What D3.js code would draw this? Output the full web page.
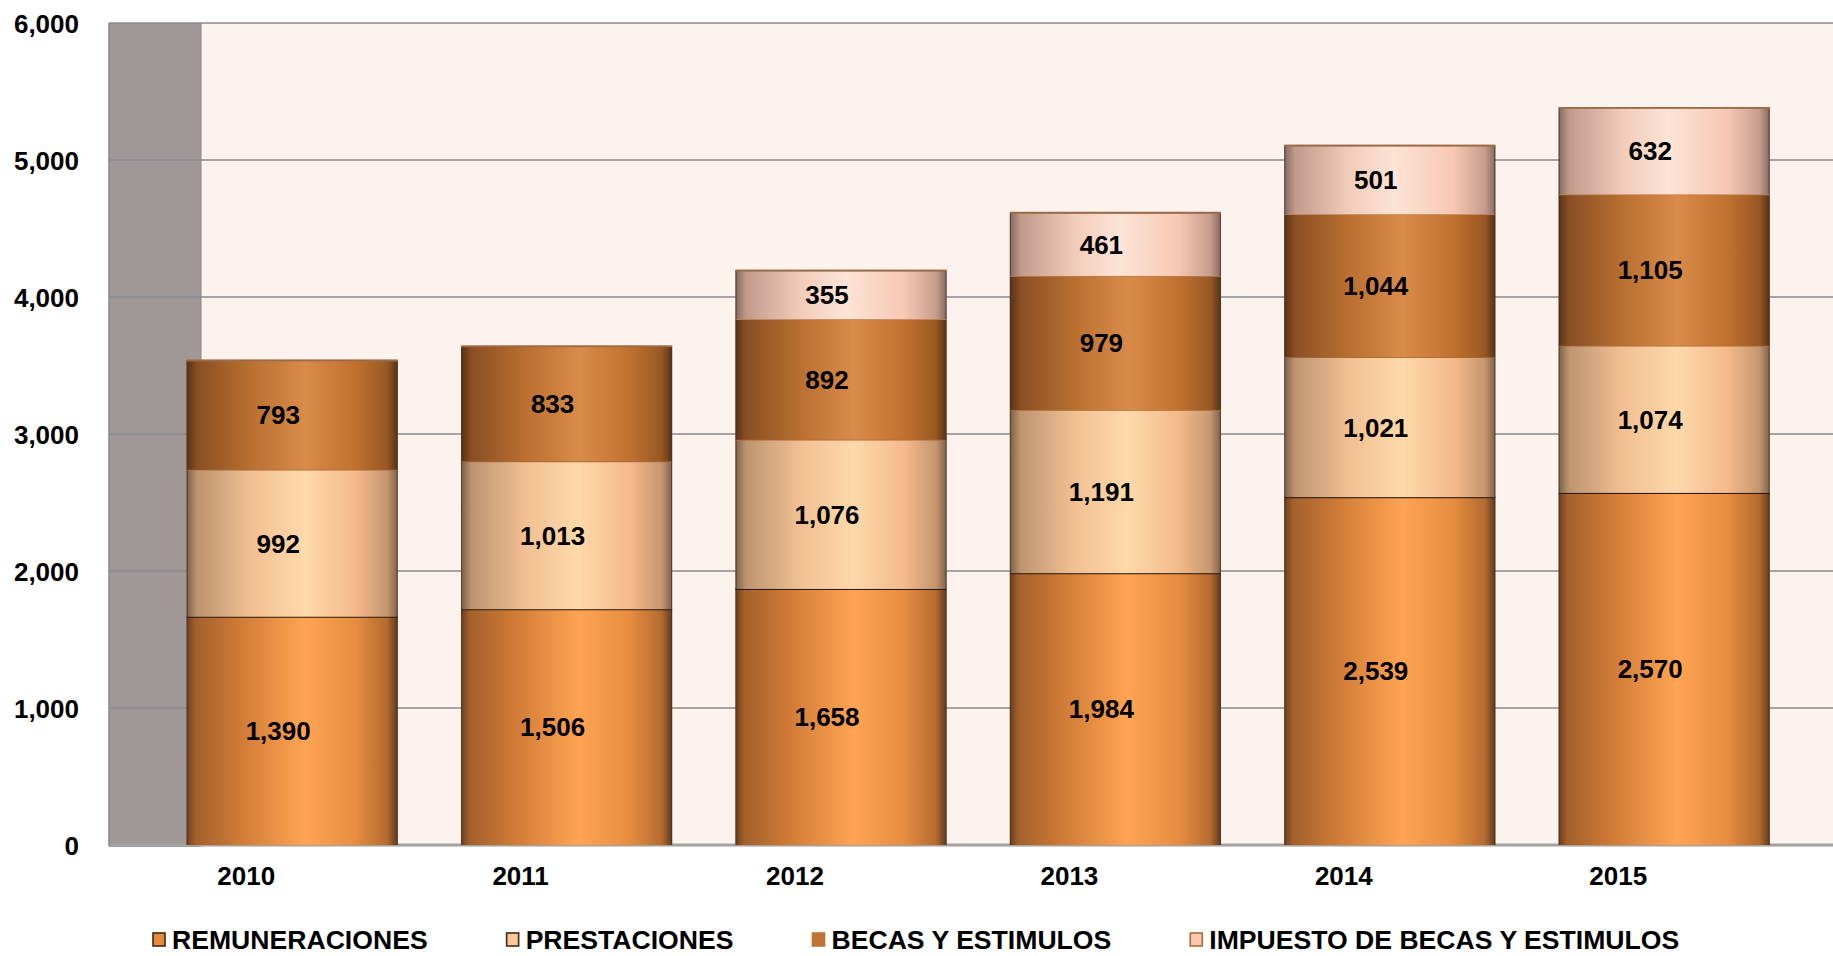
<!DOCTYPE html>
<html>
<head>
<meta charset="utf-8">
<script src="https://cdn.jsdelivr.net/npm/d3@7"></script>
<style>
  html, body { margin: 0; padding: 0; background: #ffffff; }
  svg { display: block; }
  text { font-family: "Liberation Sans", Arial, sans-serif; font-weight: bold; fill: #000; }
</style>
</head>
<body>
<svg id="chart" width="1833" height="956"></svg>
<script>
// ---------------- data ----------------
const years = ["2010", "2011", "2012", "2013", "2014", "2015"];
// bar heights as drawn in the picture
const remuneraciones = [1666, 1721, 1869, 1984, 2539, 2570];
const prestaciones   = [1073, 1079, 1089, 1191, 1021, 1074];
const becasEstimulos = [798, 840, 880, 979, 1044, 1105];
const impuestoBecas  = [0, 0, 355, 461, 501, 632];
// data labels as printed on the bars
const remuneracionesLabels = [1390, 1506, 1658, 1984, 2539, 2570];
const prestacionesLabels   = [992, 1013, 1076, 1191, 1021, 1074];
const becasEstimulosLabels = [793, 833, 892, 979, 1044, 1105];
const impuestoBecasLabels  = [null, null, 355, 461, 501, 632];
const seriesNames = ["REMUNERACIONES", "PRESTACIONES", "BECAS Y ESTIMULOS", "IMPUESTO DE BECAS Y ESTIMULOS"];
const yTicks = [0, 1000, 2000, 3000, 4000, 5000, 6000];

// ---------------- layout ----------------
const W = 1833, H = 956;
const plotLeft = 109, plotTop = 23, plotBottom = 845, plotRight = 1833;
const wallX = 201;
const svg = d3.select("#chart");
const fmt = d3.format(",");

const y = d3.scaleLinear().domain([0, 6000]).range([plotBottom, plotTop]);
const xCat = d3.scaleBand().domain(years).range([109, 1755.4]);
const xBar = d3.scaleBand().domain(years).range([155, 1801.4]).paddingInner(0.231).paddingOuter(0.1155);

const keys = ["remu", "prest", "becas", "imp"];
const rows = years.map((yr, i) => ({
  year: yr,
  remu: remuneraciones[i], prest: prestaciones[i], becas: becasEstimulos[i], imp: impuestoBecas[i],
  labels: {remu: remuneracionesLabels[i], prest: prestacionesLabels[i], becas: becasEstimulosLabels[i], imp: impuestoBecasLabels[i]}
}));
const stacked = d3.stack().keys(keys)(rows);

// ---------------- gradients ----------------
const defs = svg.append("defs");
const grads = {
  remu:  [[0, "#6a3e1e"], [0.04, "#a3602c"], [0.25, "#cf7a36"], [0.56, "#ffa453"], [0.8, "#e68d41"], [0.95, "#b56a2f"], [1, "#5e3a1e"]],
  prest: [[0, "#7d6048"], [0.05, "#bd9470"], [0.3, "#f1bf92"], [0.56, "#fed9aa"], [0.8, "#f4ba8b"], [0.95, "#c69670"], [1, "#806249"]],
  becas: [[0, "#573217"], [0.05, "#8a4f24"], [0.3, "#b86f30"], [0.56, "#d98b4a"], [0.8, "#c1712f"], [0.95, "#985823"], [1, "#573217"]],
  imp:   [[0, "#84695f"], [0.05, "#c09a8b"], [0.3, "#f1cbb9"], [0.52, "#fde4d6"], [0.8, "#f6c8b3"], [0.95, "#c79d8d"], [1, "#87695f"]]
};
Object.entries(grads).forEach(([k, stops]) => {
  const g = defs.append("linearGradient").attr("id", "g-" + k).attr("x1", "0").attr("x2", "1").attr("y1", "0").attr("y2", "0");
  stops.forEach(s => g.append("stop").attr("offset", s[0]).attr("stop-color", s[1]));
});

// ---------------- background walls ----------------
svg.append("rect").attr("x", wallX).attr("y", plotTop).attr("width", plotRight - wallX).attr("height", plotBottom - plotTop + 2).attr("fill", "#fdf3ee");
svg.append("rect").attr("x", plotLeft).attr("y", plotTop).attr("width", wallX - plotLeft).attr("height", plotBottom - plotTop + 2).attr("fill", "#a09896");
svg.append("line").attr("x1", wallX).attr("x2", wallX).attr("y1", plotTop).attr("y2", plotBottom).attr("stroke", "#8e8784").attr("stroke-width", 1);

// gridlines
svg.append("g").selectAll("line").data(yTicks).join("line")
  .attr("x1", plotLeft).attr("x2", plotRight)
  .attr("y1", d => y(d)).attr("y2", d => y(d))
  .attr("stroke", d => d === 0 ? "#a3a3a3" : "#8a8a8a")
  .attr("stroke-width", d => d === 0 ? 3 : 1.6);
svg.append("line").attr("x1", plotLeft).attr("x2", plotLeft).attr("y1", plotTop).attr("y2", plotBottom + 1).attr("stroke", "#8a8a8a").attr("stroke-width", 1.6);

// y axis labels
const yAxis = d3.axisLeft(y).tickValues(yTicks).tickFormat(fmt).tickSize(0).tickPadding(0);
const yG = svg.append("g").attr("transform", `translate(79,0)`).call(yAxis);
yG.select(".domain").remove();
yG.selectAll("text").attr("font-size", 26).attr("font-family", '"Liberation Sans", Arial, sans-serif').attr("font-weight", "bold").attr("fill", "#000").attr("dy", "0.35em");

// x axis labels
const xAxis = d3.axisBottom(xCat).tickSize(0).tickPadding(0);
const xG = svg.append("g").attr("transform", `translate(0,866)`).call(xAxis);
xG.select(".domain").remove();
xG.selectAll("text").attr("font-size", 26).attr("font-family", '"Liberation Sans", Arial, sans-serif').attr("font-weight", "bold").attr("fill", "#000").attr("dy", "0.72em");

// ---------------- bars ----------------
const edgeColor = {remu: "#2a1a10", prest: "#a8693a", becas: "#c07c4e", imp: "#a77a5e"};
const barsG = svg.append("g");
stacked.forEach(layer => {
  const k = layer.key;
  const g = barsG.append("g");
  const segs = layer.filter(d => d[1] - d[0] > 0);
  g.selectAll("rect").data(segs).join("rect")
    .attr("x", d => xBar(d.data.year))
    .attr("width", xBar.bandwidth())
    .attr("y", d => y(d[1]))
    .attr("height", d => y(d[0]) - y(d[1]))
    .attr("fill", `url(#g-${k})`);
  g.selectAll("path.side").data(segs).join("path").attr("class", "side")
    .attr("d", d => {
      const x0 = xBar(d.data.year), x1 = x0 + xBar.bandwidth();
      return `M${x0 + 0.5},${y(d[1])}V${y(d[0])}M${x1 - 0.5},${y(d[1])}V${y(d[0])}`;
    })
    .attr("stroke", "#4a3020").attr("stroke-opacity", 0.7).attr("stroke-width", 1.2).attr("fill", "none");
  g.selectAll("line.top").data(segs).join("line").attr("class", "top")
    .attr("x1", d => xBar(d.data.year)).attr("x2", d => xBar(d.data.year) + xBar.bandwidth())
    .attr("y1", d => y(d[1])).attr("y2", d => y(d[1]))
    .attr("stroke", edgeColor[k]).attr("stroke-width", k === "remu" ? 2 : 1.5);
});
const totals = rows.map(r => keys.reduce((s, k) => s + r[k], 0));
barsG.append("g").selectAll("line").data(years).join("line")
  .attr("x1", d => xBar(d)).attr("x2", d => xBar(d) + xBar.bandwidth())
  .attr("y1", (d, i) => y(totals[i])).attr("y2", (d, i) => y(totals[i]))
  .attr("stroke", "#9c6a48").attr("stroke-width", 1.8);

// data labels
const labG = svg.append("g");
stacked.forEach(layer => {
  const k = layer.key;
  labG.append("g").selectAll("text").data(layer.filter(d => d.data.labels[k] != null)).join("text")
    .attr("x", d => xBar(d.data.year) + xBar.bandwidth() / 2 - 14)
    .attr("y", d => (y(d[0]) + y(d[1])) / 2)
    .attr("dy", "0.36em")
    .attr("text-anchor", "middle")
    .attr("font-size", 26)
    .text(d => fmt(d.data.labels[k]));
});

// ---------------- legend ----------------
const legendFills = ["#e8883a", "#f9c896", "#c07434", "#f8c8b0"];
const legendStroke = ["#3a2a20", "#3a2a20", "#c07434", "#b06a38"];
const legG = svg.append("g").attr("transform", "translate(0,939)");
let lx = 152;
seriesNames.forEach((name, i) => {
  const it = legG.append("g").attr("transform", `translate(${lx},0)`);
  it.append("rect").attr("x", 1).attr("y", -6).attr("width", 12).attr("height", 13)
    .attr("fill", legendFills[i]).attr("stroke", legendStroke[i]).attr("stroke-width", 1.6);
  const t = it.append("text").attr("x", 20).attr("y", 0).attr("dy", "0.36em").attr("font-size", 26.6).text(name);
  lx += 20 + t.node().getComputedTextLength() + 78;
});
</script>
</body>
</html>
